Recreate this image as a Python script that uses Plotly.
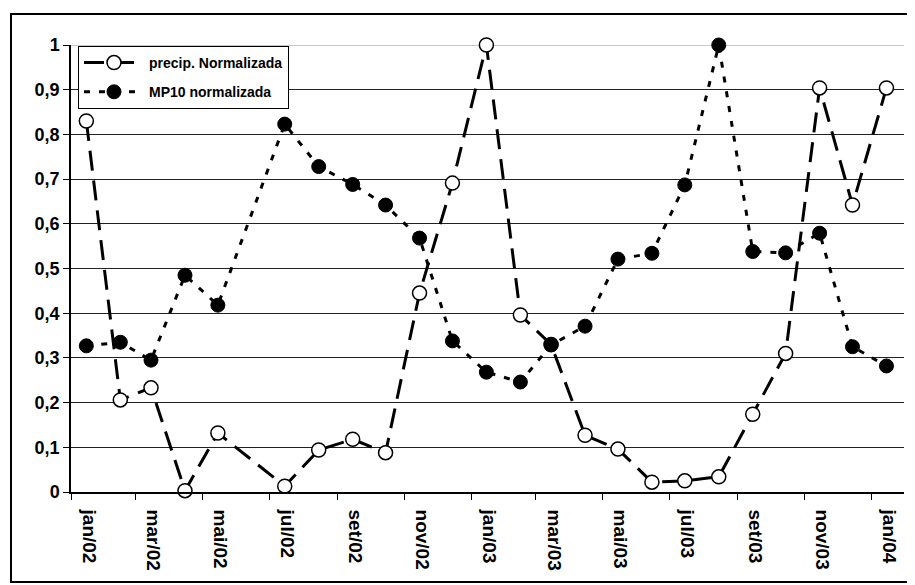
"""Normalized precipitation vs. normalized PM10, monthly, jan/02 - jan/04."""
import plotly.graph_objects as go

# mid-month sample dates (jun/02 has no data)
MONTHS = ["2002-01-15", "2002-02-15", "2002-03-15", "2002-04-15", "2002-05-15",
          "2002-07-15", "2002-08-15", "2002-09-15", "2002-10-15", "2002-11-15",
          "2002-12-15", "2003-01-15", "2003-02-15", "2003-03-15", "2003-04-15",
          "2003-05-15", "2003-06-15", "2003-07-15", "2003-08-15", "2003-09-15",
          "2003-10-15", "2003-11-15", "2003-12-15", "2004-01-15"]
PRECIP = [0.83, 0.206, 0.233, 0.003, 0.132, 0.013, 0.094, 0.118, 0.088, 0.445,
          0.691, 1.0, 0.396, 0.33, 0.127, 0.096, 0.022, 0.025, 0.034, 0.174,
          0.31, 0.904, 0.642, 0.904]
MP10 = [0.327, 0.335, 0.295, 0.485, 0.418, 0.823, 0.728, 0.688, 0.642, 0.568,
        0.338, 0.268, 0.246, 0.329, 0.371, 0.521, 0.534, 0.687, 1.0, 0.538,
        0.535, 0.579, 0.325, 0.282]

TICK_DATES = ["2002-01-01", "2002-03-01", "2002-05-01", "2002-07-01", "2002-09-01",
              "2002-11-01", "2003-01-01", "2003-03-01", "2003-05-01", "2003-07-01",
              "2003-09-01", "2003-11-01", "2004-01-01"]
TICK_TEXT = ["jan/02", "mar/02", "mai/02", "jul/02", "set/02", "nov/02", "jan/03",
             "mar/03", "mai/03", "jul/03", "set/03", "nov/03", "jan/04"]

OFF = 8                               # page body margin in the browser
W, H = 915 - OFF, 585 - OFF
L, R, T, B = 71 - OFF, 11, 45 - OFF, 93  # plot area margins (px)
PW, PH = W - L - R, H - T - B
FONT = "Liberation Sans, Arial, sans-serif"


def px_x(x):
    # page pixel -> paper fraction
    return (x - OFF - L) / PW


def px_y(y):
    return (H - B - (y - OFF)) / PH


fig = go.Figure()
fig.add_trace(go.Scatter(
    x=MONTHS, y=PRECIP, mode="lines+markers", name="precip. Normalizada",
    legendgroup="p", cliponaxis=False,
    line=dict(color="black", width=3, dash="20px,10px"),
    marker=dict(symbol="circle", size=14, color="white",
                line=dict(color="black", width=1.5))))
fig.add_trace(go.Scatter(
    x=MONTHS, y=MP10, mode="lines+markers", name="MP10 normalizada",
    legendgroup="m", cliponaxis=False,
    line=dict(color="black", width=3, dash="6px,9px"),
    marker=dict(symbol="circle", size=14, color="black",
                line=dict(color="black", width=1))))

# light grey top line at 1 (the chart's plot-area edge)
fig.add_shape(type="line", xref="paper", yref="y", x0=0, x1=1, y0=1, y1=1,
              line=dict(color="#c8c8c8", width=2), layer="between")
# outer chart border
fig.add_shape(type="rect", xref="paper", yref="paper",
              x0=px_x(11), x1=px_x(912), y0=px_y(582), y1=px_y(14),
              line=dict(color="black", width=2), layer="below")

fig.update_layout(
    width=W, height=H, margin=dict(l=L, r=R, t=T, b=B),
    paper_bgcolor="white", plot_bgcolor="white", separators=",.",
    font=dict(family=FONT, color="black"),
    showlegend=True,
    legend=dict(x=px_x(78), y=px_y(46), xanchor="left", yanchor="top",
                bgcolor="white", bordercolor="black", borderwidth=1,
                font=dict(size=14, family=FONT, weight="bold"),
                tracegroupgap=8, itemwidth=60))
fig.update_xaxes(
    type="date", range=["2002-01-01", "2004-01-31"],
    tickvals=TICK_DATES, ticktext=TICK_TEXT, tickangle=90,
    ticks="outside", ticklen=6, tickcolor="black", ticklabelshift=18,
    ticklabelstandoff=6,
    tickfont=dict(size=19, family=FONT, weight="bold"),
    showline=True, linecolor="black", linewidth=1.5, showgrid=False,
    zeroline=False)
fig.update_yaxes(
    range=[0, 1], dtick=0.1, tick0=0,
    ticks="outside", ticklen=6, tickcolor="black",
    tickfont=dict(size=18, family=FONT, weight="bold"),
    showline=True, linecolor="black", linewidth=1.5,
    showgrid=True, gridcolor="#222222", gridwidth=1, zeroline=False)

fig.write_html("out.html")
